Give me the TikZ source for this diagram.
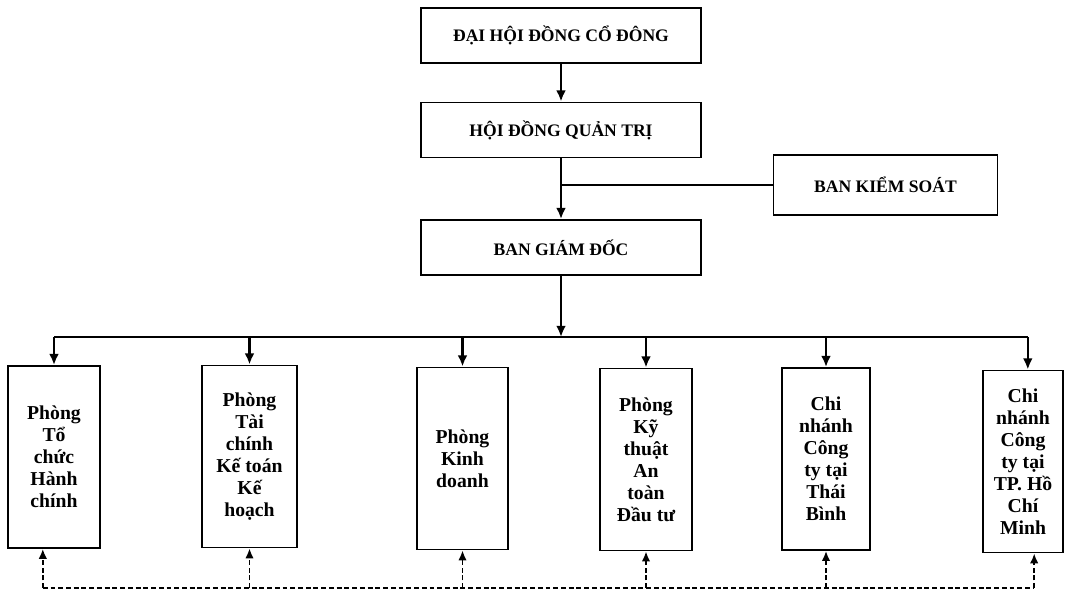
\documentclass[tikz,border=0pt]{standalone}
\usepackage{fontspec}
\setmainfont{Liberation Serif}
\usetikzlibrary{positioning}
\usetikzlibrary{arrows.meta}

\begin{document}
\begin{tikzpicture}[x=0.025cm, y=-0.025cm,
    box/.style={draw, line width=1.3pt, minimum width=7cm, minimum height=1.375cm, font=\bfseries\fontsize{12.5}{14}\selectfont},
    dept/.style={draw, line width=1.3pt, minimum width=2.3cm, minimum height=4.55cm, align=center, font=\bfseries\fontsize{14}{15.6}\selectfont},
    link/.style={-{Latex[length=8pt,width=7pt]}, line width=1.6pt},
    back/.style={-{Latex[length=7pt,width=6pt]}, line width=1.3pt, dash pattern=on 3.5pt off 2pt}]
    \useasboundingbox (0,0) rectangle (1065,592);

    % management levels
    \node[box] (dhcd) at (561,35.5) {ĐẠI HỘI ĐỒNG CỔ ĐÔNG};
    \node[box] (hdqt) at (561,130) {HỘI ĐỒNG QUẢN TRỊ};
    \node[box, minimum width=5.6cm, minimum height=1.5cm] (bks) at (885.5,185) {BAN KIỂM SOÁT};
    \node[box] (bgd) at (561,247.5) {BAN GIÁM ĐỐC};

    \draw[link] (dhcd) -- (hdqt);
    \draw[link] (hdqt) -- (bgd);
    \draw[line width=1.3pt] (bks.west) -- (bks.west -| hdqt.south);

    % departments and branches
    \node[dept, minimum width=2.3cm] (b1) at (54,457) {Phòng\\Tổ\\chức\\Hành\\chính};
    \node[dept, minimum width=2.375cm] (b2) at (249.5,456.5) {Phòng\\Tài\\chính\\Kế toán\\Kế\\hoạch};
    \node[dept, minimum width=2.275cm] (b3) at (462.5,458.5) {Phòng\\Kinh\\doanh};
    \node[dept, minimum width=2.3cm] (b4) at (646,459.5) {Phòng\\Kỹ\\thuật\\An\\toàn\\Đầu tư};
    \node[dept, minimum width=2.2cm] (b5) at (826,459) {Chi\\nhánh\\Công\\ty tại\\Thái\\Bình};
    \node[dept, minimum width=2cm] (b6) at (1023,461.5) {Chi\\nhánh\\Công\\ty tại\\TP. Hồ\\Chí\\Minh};

    \coordinate (bus) at (561,337);
    \coordinate (t6) at ([xshift=0.12cm]b6.north);
    \draw[link] (bgd) -- (bus);
    \draw[line width=1.6pt] (b1.north |- bus) -- (t6 |- bus);
    \draw[link] (b1.north |- bus) -- (b1.north);
    \draw[link] (b2.north |- bus) -- (b2.north);
    \draw[link] (b3.north |- bus) -- (b3.north);
    \draw[link] (b4.north |- bus) -- (b4.north);
    \draw[link] (b5.north |- bus) -- (b5.north);
    \draw[link] (t6 |- bus) -- (t6);

    % dashed feedback line
    \coordinate (dl) at (561,588);
    \coordinate (f1) at ([xshift=-0.28cm]b1.south);
    \coordinate (f6) at ([xshift=0.28cm]b6.south);
    \draw[back, -] (f1 |- dl) -- (f6 |- dl);
    \draw[back] (f1 |- dl) -- (f1);
    \draw[back] (b2.south |- dl) -- (b2.south);
    \draw[back] (b3.south |- dl) -- (b3.south);
    \draw[back] (b4.south |- dl) -- (b4.south);
    \draw[back] (b5.south |- dl) -- (b5.south);
    \draw[back] (f6 |- dl) -- (f6);
\end{tikzpicture}
\end{document}
